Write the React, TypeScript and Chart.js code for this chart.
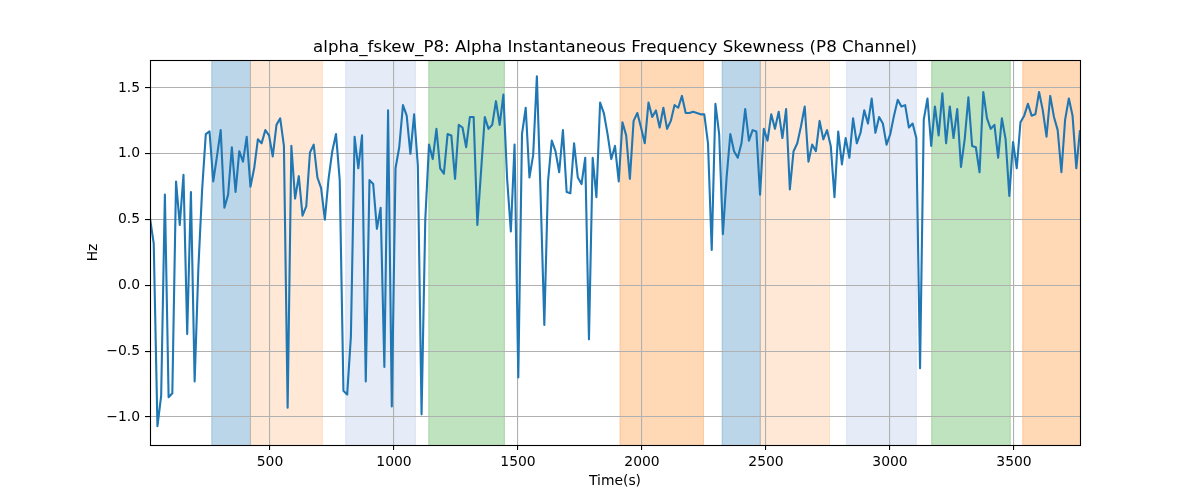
import React, { useEffect, useRef } from "react";
import { Chart, registerables } from "chart.js";

Chart.register(...registerables);

const TITLE = "alpha_fskew_P8: Alpha Instantaneous Frequency Skewness (P8 Channel)";
const X_LABEL = "Time(s)";
const Y_LABEL = "Hz";

// sampling grid of the series (seconds)
const T_START = 16;
const T_STEP = 15;

// Hz values
const values = [
  0.51, 0.32, -1.07, -0.84, 0.69, -0.85, -0.82, 0.79, 0.46, 0.84,
  -0.37, 0.71, -0.73, 0.13, 0.72, 1.15, 1.17, 0.79, 0.98, 1.18,
  0.59, 0.69, 1.05, 0.71, 1.02, 0.94, 1.13, 0.75, 0.89, 1.11,
  1.08, 1.18, 1.14, 0.98, 1.22, 1.27, 1.06, -0.93, 1.06, 0.66,
  0.83, 0.53, 0.6, 1.01, 1.07, 0.82, 0.74, 0.5, 0.81, 1.02,
  1.15, 0.8, -0.8, -0.83, -0.39, 1.13, 0.89, 1.14, -0.73, 0.8,
  0.77, 0.43, 0.59, -0.62, 1.33, -0.92, 0.89, 1.05, 1.37, 1.29,
  1.0, 1.3, 0.91, -0.98, 0.5, 1.07, 0.96, 1.19, 0.89, 0.85,
  1.15, 1.14, 0.81, 1.22, 1.2, 1.05, 1.28, 1.28, 0.46, 0.87,
  1.28, 1.19, 1.22, 1.4, 1.22, 1.45, 0.81, 0.41, 1.07, -0.7,
  1.15, 1.35, 0.82, 0.99, 1.59, 0.69, -0.3, 0.79, 1.1, 1.02,
  0.86, 1.18, 0.71, 0.7, 1.08, 0.82, 0.77, 0.97, -0.41, 0.97,
  0.67, 1.39, 1.31, 1.15, 0.96, 1.06, 0.79, 1.24, 1.14, 0.81,
  1.25, 1.31, 1.2, 1.08, 1.39, 1.28, 1.33, 1.2, 1.35, 1.19,
  1.25, 1.37, 1.35, 1.44, 1.31, 1.31, 1.32, 1.31, 1.3, 1.3,
  1.08, 0.27, 1.38, 1.15, 0.39, 0.82, 1.15, 1.02, 0.97, 1.08,
  1.34, 1.1, 1.18, 1.17, 0.69, 1.19, 1.1, 1.3, 1.19, 1.32,
  1.12, 1.34, 0.73, 1.02, 1.08, 1.21, 1.36, 0.94, 1.07, 1.02,
  1.25, 1.11, 1.18, 1.06, 0.67, 1.17, 0.92, 1.12, 0.97, 1.27,
  1.08, 1.16, 1.33, 1.23, 1.42, 1.16, 1.28, 1.23, 1.07, 1.15,
  1.29, 1.41, 1.36, 1.37, 1.2, 1.23, 1.12, -0.63, 1.26, 1.42,
  1.06, 1.36, 1.14, 1.46, 1.08, 1.36, 1.12, 1.34, 0.9, 1.11,
  1.43, 1.06, 1.05, 0.86, 1.47, 1.27, 1.19, 1.22, 0.97, 1.27,
  1.11, 0.68, 1.09, 0.89, 1.24, 1.29, 1.38, 1.29, 1.3, 1.47,
  1.33, 1.13, 1.44, 1.28, 1.18, 0.86, 1.26, 1.42, 1.29, 0.89,
  1.18,
];

const times = values.map((_, i) => T_START + i * T_STEP);

const xTicks = [500, 1000, 1500, 2000, 2500, 3000, 3500];
const yTicks = [-1.0, -0.5, 0.0, 0.5, 1.0, 1.5];

// shaded intervals (seconds)
const bandStart = [265, 421, 805, 1140, 1911, 2323, 2477, 2825, 3168, 3535];
const bandEnd = [421, 711, 1086, 1445, 2248, 2477, 2756, 3106, 3485, 3800];
const bandKind = ["blue", "lorange", "lblue", "green", "orange", "blue", "lorange", "lblue", "green", "orange"];

const KIND_COLORS: Record<string, string> = {
  blue: "rgba(31,119,180,0.3)",
  lorange: "rgba(255,127,14,0.17)",
  lblue: "rgba(70,120,200,0.14)",
  green: "rgba(44,160,44,0.3)",
  orange: "rgba(255,127,14,0.3)",
};

const FONT = '"DejaVu Sans", "Liberation Sans", sans-serif';

export default function App() {
  const canvasRef = useRef<HTMLCanvasElement | null>(null);

  useEffect(() => {
    const canvas = canvasRef.current;
    if (!canvas) return;

    const bandsPlugin = {
      id: "bands",
      beforeDraw(chart: any) {
        const { ctx, chartArea: a, scales } = chart;
        const x = scales.x;
        ctx.save();
        ctx.fillStyle = "#ffffff";
        ctx.fillRect(0, 0, chart.width, chart.height);
        ctx.beginPath();
        ctx.rect(a.left, a.top, a.right - a.left, a.bottom - a.top);
        ctx.clip();
        bandStart.forEach((s, i) => {
          const x1 = x.getPixelForValue(s);
          const x2 = x.getPixelForValue(bandEnd[i]);
          const c = KIND_COLORS[bandKind[i]];
          ctx.fillStyle = c;
          ctx.fillRect(x1, a.top, x2 - x1, a.bottom - a.top);
          ctx.strokeStyle = c;
          ctx.lineWidth = 1;
          ctx.beginPath();
          ctx.moveTo(x1, a.top);
          ctx.lineTo(x1, a.bottom);
          ctx.moveTo(x2, a.top);
          ctx.lineTo(x2, a.bottom);
          ctx.stroke();
        });
        ctx.restore();
      },
    };

    const framePlugin = {
      id: "frame",
      afterDraw(chart: any) {
        const { ctx, chartArea: a } = chart;
        ctx.save();
        ctx.strokeStyle = "#000";
        ctx.lineWidth = 1.1;
        ctx.strokeRect(
          Math.round(a.left) + 0.5,
          Math.round(a.top) + 0.5,
          Math.round(a.right - a.left),
          Math.round(a.bottom - a.top)
        );
        ctx.fillStyle = "#000";
        ctx.textAlign = "center";
        ctx.font = `16.67px ${FONT}`;
        ctx.textBaseline = "alphabetic";
        ctx.fillText(TITLE, (a.left + a.right) / 2, a.top - 8.3);
        ctx.font = `13.9px ${FONT}`;
        ctx.textBaseline = "middle";
        ctx.fillText(X_LABEL, (a.left + a.right) / 2, a.bottom + 36);
        ctx.translate(a.left - 57, (a.top + a.bottom) / 2);
        ctx.rotate(-Math.PI / 2);
        ctx.fillText(Y_LABEL, 0, 0);
        ctx.restore();
      },
    };

    const chart = new Chart(canvas, {
      type: "line",
      data: {
        datasets: [
          {
            data: times.map((t, i) => ({ x: t, y: values[i] })),
            borderColor: "#1f77b4",
            borderWidth: 2.1,
            pointRadius: 0,
            tension: 0,
            fill: false,
            borderJoinStyle: "round",
          },
        ],
      },
      options: {
        animation: false,
        responsive: false,
        maintainAspectRatio: false,
        layout: { padding: { left: 0, right: 120, top: 60, bottom: 0 } },
        plugins: {
          legend: { display: false },
          tooltip: { enabled: false },
          title: { display: false },
        },
        scales: {
          x: {
            type: "linear",
            min: times[0],
            max: times[times.length - 1],
            afterBuildTicks: (axis: any) => {
              axis.ticks = xTicks.map((v) => ({ value: v }));
            },
            afterFit: (s: any) => {
              s.height = 55;
            },
            ticks: {
              autoSkip: false,
              maxRotation: 0,
              padding: 4,
              color: "#000",
              font: { family: FONT, size: 13.9 },
              callback: (v: any) => String(v),
            },
            grid: {
              color: "#b0b0b0",
              lineWidth: 1.1,
              tickLength: 5,
              tickColor: "#000",
              tickWidth: 1.1,
            },
            border: { display: false },
          },
          y: {
            type: "linear",
            min: -1.213,
            max: 1.713,
            afterBuildTicks: (axis: any) => {
              axis.ticks = yTicks.map((v) => ({ value: v }));
            },
            afterFit: (s: any) => {
              s.width = 150;
            },
            ticks: {
              autoSkip: false,
              padding: 5,
              color: "#000",
              font: { family: FONT, size: 13.9 },
              callback: (v: any) => {
                const n = Number(v);
                const s = Math.abs(n).toFixed(1);
                return n < 0 ? "\u2212" + s : s;
              },
            },
            grid: {
              color: "#b0b0b0",
              lineWidth: 1.1,
              tickLength: 5,
              tickColor: "#000",
              tickWidth: 1.1,
            },
            border: { display: false },
          },
        },
      },
      plugins: [bandsPlugin, framePlugin],
    } as any);

    return () => {
      chart.destroy();
    };
  }, []);

  return (
    <div style={{ position: "absolute", left: 0, top: 0, width: 1200, height: 500, background: "#fff" }}>
      <canvas ref={canvasRef} width={1200} height={500} style={{ display: "block", width: 1200, height: 500 }} />
    </div>
  );
}
